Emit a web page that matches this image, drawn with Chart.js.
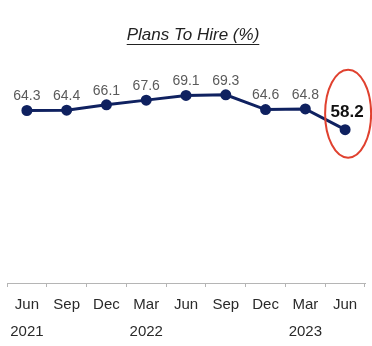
<!DOCTYPE html>
<html>
<head>
<meta charset="utf-8">
<title>Plans To Hire</title>
<script src="https://cdn.jsdelivr.net/npm/chart.js@4.4.0/dist/chart.umd.min.js"></script>
<style>
  html, body { margin: 0; padding: 0; background: #fff; }
  #wrap { width: 372px; height: 346px; }
</style>
</head>
<body>
<div id="wrap"><canvas id="hire-chart" width="372" height="346"></canvas></div>
<script>
// Quarterly survey readings, Jun 2021 - Jun 2023
const months = ["Jun", "Sep", "Dec", "Mar", "Jun", "Sep", "Dec", "Mar", "Jun"];
const years = ["2021", "", "", "2022", "", "", "", "2023", ""];
const plansToHire = [64.3, 64.4, 66.1, 67.6, 69.1, 69.3, 64.6, 64.8, 58.2];

// month on the first line, year (when there is one) underneath
const labels = months.map((m, i) => (years[i] ? [m, years[i]] : m));

const navy = "#0f2160";
const titleText = "Plans To Hire (%)";
const titleFont = "italic 17px 'Liberation Sans', Arial, sans-serif";

// Value labels above each point; the latest reading is bold and circled
const valueLabels = {
  id: "valueLabels",
  afterDatasetsDraw(chart) {
    const ctx = chart.ctx;
    const points = chart.getDatasetMeta(0).data;
    const last = points.length - 1;
    ctx.save();
    ctx.textAlign = "center";
    ctx.textBaseline = "middle";
    points.forEach((pt, i) => {
      const v = plansToHire[i].toFixed(1);
      if (i === last) {
        ctx.font = "bold 17px 'Liberation Sans', Arial, sans-serif";
        ctx.fillStyle = "#111";
        ctx.fillText(v, pt.x + 2, pt.y - 17);
        ctx.strokeStyle = "#e0412f";
        ctx.lineWidth = 2;
        ctx.beginPath();
        ctx.ellipse(pt.x + 3, pt.y - 16, 23, 44, 0, 0, Math.PI * 2);
        ctx.stroke();
      } else {
        ctx.font = "14px 'Liberation Sans', Arial, sans-serif";
        ctx.fillStyle = "#5a5a5a";
        ctx.fillText(v, pt.x, pt.y - 14);
      }
    });
    ctx.restore();
  },
};

// Underlined italic heading, a little right of centre
const heading = {
  id: "heading",
  afterDraw(chart) {
    const ctx = chart.ctx;
    const cx = (chart.chartArea.left + chart.chartArea.right) / 2 + 7;
    const y = 35;
    ctx.save();
    ctx.font = titleFont;
    ctx.fillStyle = "#222";
    ctx.textAlign = "center";
    ctx.textBaseline = "middle";
    ctx.fillText(titleText, cx, y);
    const w = ctx.measureText(titleText).width;
    ctx.strokeStyle = "#222";
    ctx.lineWidth = 1;
    ctx.beginPath();
    ctx.moveTo(cx - w / 2, y + 9.5);
    ctx.lineTo(cx + w / 2, y + 9.5);
    ctx.stroke();
    ctx.restore();
  },
};

new Chart(document.getElementById("hire-chart"), {
  type: "line",
  data: {
    labels: labels,
    datasets: [
      {
        data: plansToHire,
        borderColor: navy,
        backgroundColor: navy,
        borderWidth: 3,
        pointRadius: 4,
        pointBackgroundColor: navy,
        pointBorderColor: navy,
        tension: 0,
      },
    ],
  },
  options: {
    responsive: false,
    animation: false,
    layout: { padding: { left: 5, right: 7, top: 64, bottom: -3 } },
    plugins: {
      legend: { display: false },
      tooltip: { enabled: false },
      title: { display: false },
    },
    scales: {
      x: {
        offset: true,
        grid: {
          offset: true,
          drawOnChartArea: false,
          color: "#b5b5b5",
          tickLength: 4,
        },
        border: { color: "#b5b5b5", width: 1 },
        ticks: {
          color: "#2a2a2a",
          padding: 4,
          maxRotation: 0,
          autoSkip: false,
          font: { family: "'Liberation Sans', Arial, sans-serif", size: 15, lineHeight: "27px" },
        },
      },
      y: {
        display: false,
        min: 9.4,
        max: 79.1,
      },
    },
  },
  plugins: [valueLabels, heading],
});
</script>
</body>
</html>
